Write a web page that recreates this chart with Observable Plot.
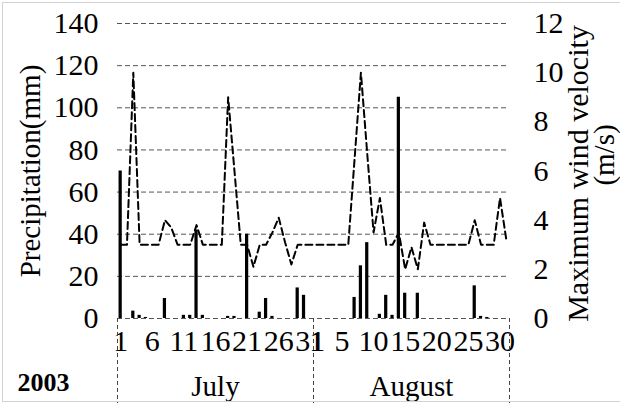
<!DOCTYPE html>
<html><head><meta charset="utf-8">
<script src="https://cdn.jsdelivr.net/npm/d3@7"></script>
<script src="https://cdn.jsdelivr.net/npm/@observablehq/plot@0.6"></script>
<style>
body{margin:0;background:#fff;}
#wrap{position:relative;width:620px;height:403px;overflow:hidden;background:#fff;}
#frame{position:absolute;left:2px;top:2px;width:640px;height:398px;border:1px solid #d2d2d2;pointer-events:none;}
#wrap svg, #wrap svg text{font-family:"Liberation Serif","Times New Roman",serif !important;}
</style></head><body><div id="wrap"><div id="frame"></div></div>
<script>
// ---- data ----
const months = ["July", "August"];
const monthNums = [7, 8];
const daysPerMonth = [31, 31];
const yearLabel = "2003";
const precipJuly = [70, 0, 3.5, 1.5, 0.5, 0, 0, 9.5, 0, 0, 1.5, 1.5, 42, 1.5, 0, 0, 0, 1, 1, 0, 40, 0, 3, 9.5, 1, 0, 0, 0, 14.5, 11, 0];
const precipAug  = [0, 0, 0, 0, 0, 0, 10, 25, 36, 0, 2, 11, 1.5, 105, 12, 0, 12, 0, 0, 0, 0, 0, 0, 0, 0, 15.5, 1, 0.5, 0, 0, 0];
const windJuly = [3, 3, 10, 3, 3, 3, 3, 4, 3.7, 3, 3, 3, 3.8, 3, 3, 3, 3, 9, 6, 3, 3, 2.1, 3, 3, 3.5, 4.1, 3.1, 2.2, 3, 3, 3];
const windAug  = [3, 3, 3, 3, 3, 3, 6.5, 10, 6.7, 3.5, 4.9, 3, 3, 3.5, 2, 2.9, 2, 3.9, 3, 3, 3, 3, 3, 3, 3, 4, 3, 3, 3, 4.9, 3.2];
const xTickDaysJuly = [1, 6, 11, 16, 21, 26, 31];
const xTickDaysAug = [1, 5, 10, 15, 20, 25, 30];
const precipTicks = [0, 20, 40, 60, 80, 100, 120, 140];
const windTicks = [0, 2, 4, 6, 8, 10, 12];
const precipMax = 140, windMax = 12;
const titleLeft = "Precipitation(mm)";
const titleRight1 = "Maximum wind velocity";
const titleRight2 = "(m/s)";

// ---- build table ----
const precipByMonth = [precipJuly, precipAug];
const windByMonth = [windJuly, windAug];
const rows = [];
months.forEach((m, mi) => {
  for (let d = 1; d <= daysPerMonth[mi]; d++) {
    rows.push({key: monthNums[mi] + "/" + d, month: m, day: d,
      precip: precipByMonth[mi][d - 1], wind: windByMonth[mi][d - 1]});
  }
});
const keys = rows.map(r => r.key);
const tickKeys = [
  ...xTickDaysJuly.map(d => monthNums[0] + "/" + d),
  ...xTickDaysAug.map(d => monthNums[1] + "/" + d)
];
const mmPerWind = precipMax / windMax;
const W = 620, H = 403, ML = 117, MR = 111, MT = 23, MB = 85;
const bw = (W - ML - MR) / keys.length;
const font = "Liberation Serif";
const monthLabelRows = months.map((m, i) => ({key: monthNums[i] + "/16", text: m}));
const dividerStart = months.map((m, i) => monthNums[i] + "/1");
const lastKey = keys[keys.length - 1];

const chart = Plot.plot({
  width: W, height: H,
  marginLeft: ML, marginRight: MR, marginTop: MT, marginBottom: MB,
  style: {fontFamily: font, fontSize: "30px", color: "#000", background: "transparent", overflow: "visible"},
  x: {type: "band", domain: keys, padding: 0, round: false, axis: null},
  y: {domain: [0, precipMax], axis: null},
  marks: [
    Plot.gridY({ticks: precipTicks, stroke: "#555", strokeOpacity: 1, strokeDasharray: "5,3", strokeWidth: 1}),
    Plot.barY(rows, {x: "key", y: "precip", fill: "#000", insetLeft: 1.55, insetRight: 1.55}),
    Plot.line(rows, {x: "key", y: d => d.wind * mmPerWind, stroke: "#000", strokeWidth: 2, strokeDasharray: "7,4"}),
    Plot.axisY({anchor: "left", ticks: precipTicks, tickSize: 0, tickPadding: 19, label: null, fontSize: 30, fontFamily: font}),
    Plot.axisY({anchor: "right", ticks: windTicks.map(w => w * mmPerWind), tickFormat: v => String(Math.round(v / mmPerWind)), tickSize: 0, tickPadding: 24, label: null, fontSize: 30, fontFamily: font}),
    Plot.axisX({ticks: tickKeys, tickFormat: k => k.split("/")[1], tickSize: 0, tickPadding: 11, label: null, fontSize: 30, fontFamily: font}),
    Plot.ruleX(dividerStart, {x: d => d, dx: -bw / 2, stroke: "#444", strokeDasharray: "4,3", insetTop: H - MT - MB, insetBottom: -MB}),
    Plot.ruleX([lastKey], {x: d => d, dx: bw / 2, stroke: "#444", strokeDasharray: "4,3", insetTop: H - MT - MB, insetBottom: -MB}),
    Plot.text(monthLabelRows, {x: "key", text: "text", frameAnchor: "bottom", lineAnchor: "bottom", dy: 77, fontSize: 29, fontFamily: font}),
    Plot.text([yearLabel], {text: d => d, frameAnchor: "bottom-left", textAnchor: "start", lineAnchor: "bottom", dx: -100, dy: 72, fontSize: 26, fontWeight: "bold", fontFamily: font}),
    Plot.text([titleLeft], {text: d => d, frameAnchor: "left", textAnchor: "middle", rotate: -90, dx: -87, fontSize: 29, fontFamily: font}),
    Plot.text([titleRight1], {text: d => d, frameAnchor: "right", textAnchor: "middle", rotate: -90, dx: 69, dy: 2.5, fontSize: 30, fontFamily: font}),
    Plot.text([titleRight2], {text: d => d, frameAnchor: "right", textAnchor: "middle", rotate: -90, dx: 95, dy: -16, fontSize: 29, fontFamily: font})
  ]
});
document.getElementById("wrap").prepend(chart);
</script>
</body></html>
